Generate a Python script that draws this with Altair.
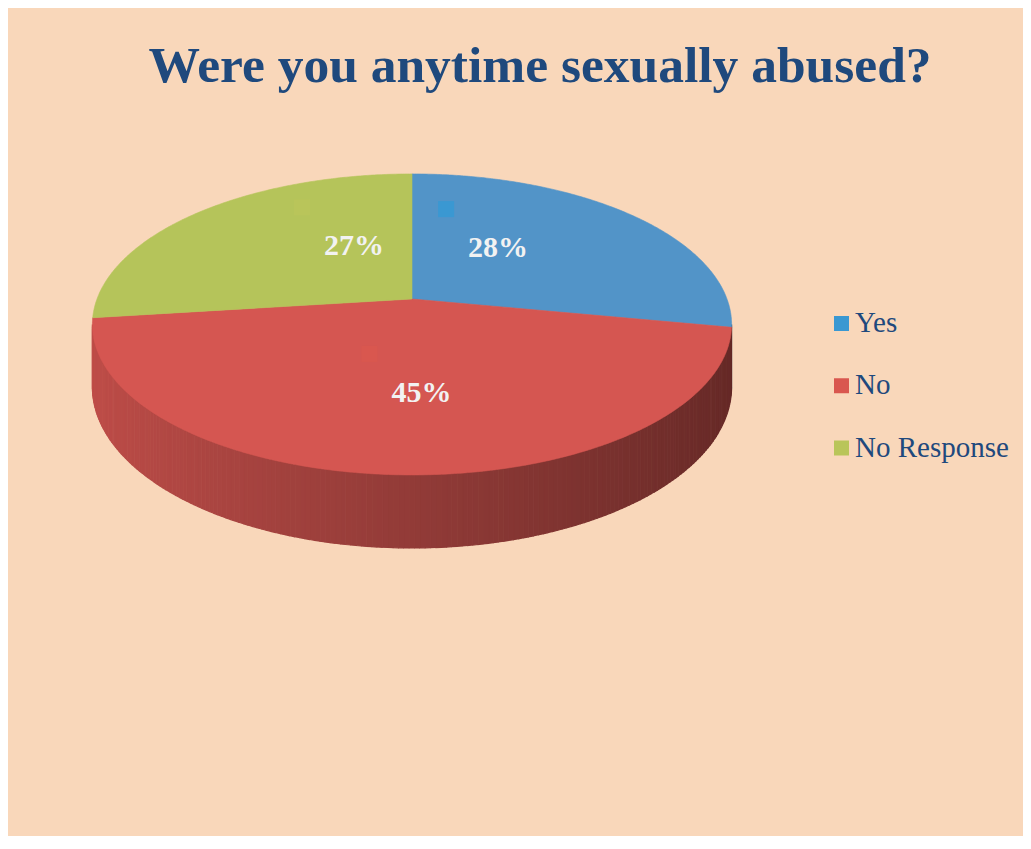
import numpy as np
import pandas as pd
import altair as alt

# ---------------- data ----------------
categories = ["Yes", "No", "No Response"]
values = [28, 45, 27]                      # percent
slice_colors = ["#5294C8", "#D55651", "#B5C45A"]
key_colors = ["#3A98D2", "#D9574F", "#B9C55A"]
title_text = "Were you anytime sexually abused?"

# ---------------- style / geometry ----------------
W, H = 1015, 828
X0, Y0 = 8, 8                 # page margin, so domains read in page pixels
BG = "#F9D7BA"
TEXT_BLUE = "#1F497D"
CX, CY = 412.0, 299.0         # pie centre
A, B = 315.0, 146.2           # horizontal / vertical radius factors
K = 0.169                     # perspective strength
DZ = 60.7                     # pie thickness


def proj(t, r=1.0, depth=0.0):
    u = r * np.sin(t)
    v = -r * np.cos(t)
    s = 1.0 / (1.0 - K * v)
    return CX + A * u * s, CY + B * v * s + depth * s


def shade(hexcol, f):
    h = hexcol.lstrip("#")
    rgb = [int(h[i:i + 2], 16) for i in (0, 2, 4)]
    rgb = [max(0, min(255, int(round(c * f)))) for c in rgb]
    return "#%02X%02X%02X" % tuple(rgb)


total = float(sum(values))
bounds = np.concatenate([[0.0], np.cumsum(values) / total]) * 2 * np.pi

# top surface polygons
top_rows = []
for i, cat in enumerate(categories):
    a0, a1 = bounds[i], bounds[i + 1]
    n = max(4, int(np.degrees(a1 - a0) / 0.5))
    cx, cy = proj(0.0, r=0.0)
    top_rows.append(dict(pid=cat, o=0, x=cx, y=cy, col=slice_colors[i]))
    for j, t in enumerate(np.linspace(a0, a1, n + 1)):
        x, y = proj(t)
        top_rows.append(dict(pid=cat, o=j + 1, x=x, y=y, col=slice_colors[i]))
    top_rows.append(dict(pid=cat, o=n + 2, x=cx, y=cy, col=slice_colors[i]))
top_df = pd.DataFrame(top_rows)

# side wall strips: only the part facing the viewer (between the silhouettes)
t_sil = np.arccos(-K)                      # right silhouette angle
ts = np.linspace(t_sil, 2 * np.pi - t_sil, 200)
side_rows = []
for j in range(len(ts) - 1):
    t0, t1 = ts[j], ts[j + 1]
    tm = 0.5 * (t0 + t1)
    idx = int(np.searchsorted(bounds, tm, side="right") - 1)
    idx = min(max(idx, 0), len(categories) - 1)
    f = 0.685 - 0.215 * np.sin(tm)
    col = shade(slice_colors[idx], f)
    pts = [proj(t0), proj(t1), proj(t1, depth=DZ), proj(t0, depth=DZ)]
    for o, (x, y) in enumerate(pts):
        side_rows.append(dict(pid=f"s{j}", o=o, x=x, y=y, col=col))
side_df = pd.DataFrame(side_rows)

# data labels
RX, RY = 0.32, 0.58
lab_rows = []
for i, cat in enumerate(categories):
    tm = 0.5 * (bounds[i] + bounds[i + 1])
    u = np.sin(tm)
    v = -np.cos(tm)
    s = 1.0 / (1.0 - K * RY * v)
    lab_rows.append(dict(cat=cat, x=CX + A * RX * u * s, y=CY + B * RY * v * s,
                         label=f"{values[i]}%", key=key_colors[i]))
lab_df = pd.DataFrame(lab_rows)

# legend
leg_df = pd.DataFrame(dict(
    cat=categories,
    col=key_colors,
    sy=[323.5 + 62.25 * i for i in range(len(categories))],
    ty=[332.0 + 62.25 * i for i in range(len(categories))],
))

xs = alt.Scale(domain=[X0, X0 + W], nice=False, zero=False)
ys = alt.Scale(domain=[Y0, Y0 + H], nice=False, zero=False, reverse=True)
X = lambda f: alt.X(f, type="quantitative", scale=xs, axis=None)
Y = lambda f: alt.Y(f, type="quantitative", scale=ys, axis=None)

side = alt.Chart(side_df).mark_line(strokeWidth=1.2).encode(
    x=X("x"), y=Y("y"), detail="pid:N", order="o:Q",
    fill=alt.Fill("col:N", scale=None), stroke=alt.Stroke("col:N", scale=None),
)

top = alt.Chart(top_df).mark_line(strokeWidth=0.6).encode(
    x=X("x"), y=Y("y"), detail="pid:N", order="o:Q",
    fill=alt.Fill("col:N", scale=None), stroke=alt.Stroke("col:N", scale=None),
)

keys = alt.Chart(lab_df).mark_square(size=256, xOffset=-39, yOffset=-39, opacity=1).encode(
    x=X("x"), y=Y("y"), color=alt.Color("key:N", scale=None),
)

labels = alt.Chart(lab_df).mark_text(
    font="Liberation Serif", fontWeight="bold", fontSize=30, color="#F2F2F2",
    align="center", baseline="middle", dx=13,
).encode(x=X("x"), y=Y("y"), text="label:N")

leg_sq = alt.Chart(leg_df).mark_square(size=225, opacity=1).encode(
    x=alt.X("sx:Q", scale=xs, axis=None), y=Y("sy"),
    color=alt.Color("col:N", scale=None),
).transform_calculate(sx="841.5")

leg_txt = alt.Chart(leg_df).mark_text(
    font="Liberation Serif", fontSize=29, color=TEXT_BLUE,
    align="left", baseline="alphabetic",
).encode(x=alt.X("tx:Q", scale=xs, axis=None), y=Y("ty"), text="cat:N").transform_calculate(tx="855")

title = alt.Chart(pd.DataFrame({"t": [title_text]})).mark_text(
    font="Liberation Serif", fontWeight="bold", fontSize=51.5, color=TEXT_BLUE,
    align="center", baseline="alphabetic",
).encode(x=alt.datum(540, scale=xs), y=alt.datum(82, scale=ys), text="t:N")

chart = alt.layer(side, top, keys, labels, leg_sq, leg_txt, title).properties(
    width=W, height=H, padding=0, background=BG,
    autosize=alt.AutoSizeParams(type="none"),
).configure_view(strokeWidth=0)

chart.save("out.html", embed_options={"renderer": "svg", "actions": False})
